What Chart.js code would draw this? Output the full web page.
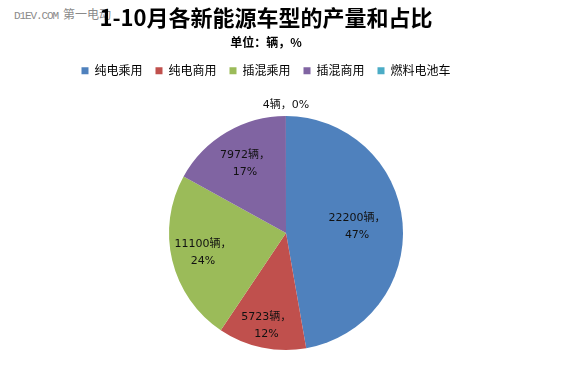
<!DOCTYPE html>
<html>
<head>
<meta charset="utf-8">
<script src="https://cdn.jsdelivr.net/npm/chart.js@4.4.0/dist/chart.umd.min.js"></script>
<style>
  html, body { margin: 0; padding: 0; background: #fff; }
  #wrap { position: relative; width: 564px; height: 365px; }
  #mark { position: absolute; left: 14px; top: 5px; color: #8a8a8a; white-space: nowrap; }
  #mark .en { font: 11px "Liberation Mono"; letter-spacing: -1.1px; }
  #mark .cn { font: 12px "Noto Sans CJK SC"; margin-left: 5px; }
  canvas { position: absolute; left: 0; top: 0; }
</style>
</head>
<body>
<div id="wrap">
  <div id="mark"><span class="en">D1EV.COM</span><span class="cn">第一电动</span></div>
  <canvas id="myChart" width="564" height="365"></canvas>
</div>
<script>
const categories = ['纯电乘用', '纯电商用', '插混乘用', '插混商用', '燃料电池车'];
const output = [22200, 5723, 11100, 7972, 4];
const colors = ['#4f81bd', '#c0504d', '#9bbb59', '#8064a2', '#4bacc6'];
// how far out each label sits, as a share of the radius
const labelRadius = [0.61, 0.81, 0.73, 0.69, 1.09];

const CJK = '"Noto Sans CJK SC", "Noto Sans", sans-serif';

// moves the plot area so the pie sits right of the centred titles
const plotBox = {
  id: 'plotBox',
  afterLayout(chart, args, opts) {
    const a = chart.chartArea;
    a.left += opts.shiftX * 2;
    a.top = opts.top;
    a.bottom = opts.bottom;
    a.width = a.right - a.left;
    a.height = a.bottom - a.top;
  }
};

const sliceLabels = {
  id: 'sliceLabels',
  afterDatasetsDraw(chart) {
    const ctx = chart.ctx;
    const meta = chart.getDatasetMeta(0);
    const data = chart.data.datasets[0].data;
    const total = data.reduce((a, b) => a + b, 0);
    ctx.save();
    ctx.font = '11px "DejaVu Sans", ' + CJK;
    ctx.fillStyle = '#111';
    ctx.textAlign = 'center';
    ctx.textBaseline = 'middle';
    meta.data.forEach((arc, i) => {
      const p = arc.getProps(['x', 'y', 'startAngle', 'endAngle', 'outerRadius'], true);
      const mid = (p.startAngle + p.endAngle) / 2;
      const r = p.outerRadius * labelRadius[i];
      const x = p.x + Math.cos(mid) * r;
      const y = p.y + Math.sin(mid) * r;
      const head = data[i] + '辆，';
      const pct = Math.round(data[i] / total * 100) + '%';
      if (labelRadius[i] > 1) {
        ctx.fillText(head + pct, x, y);
      } else {
        ctx.fillText(head, x, y - 8.5);
        ctx.fillText(pct, x, y + 8.5);
      }
    });
    ctx.restore();
  }
};

const ctx = document.getElementById('myChart').getContext('2d');
const myChart = new Chart(ctx, {
  type: 'pie',
  data: {
    labels: categories,
    datasets: [{
      data: output,
      backgroundColor: colors,
      borderWidth: 0
    }]
  },
  options: {
    responsive: false,
    animation: false,
    radius: 117,
    layout: { padding: { left: 0, right: 32, top: 0, bottom: 0 } },
    plugins: {
      plotBox: { shiftX: 20, top: 116, bottom: 350 },
      title: {
        display: true,
        text: '1-10月各新能源车型的产量和占比',
        color: '#000',
        font: { family: CJK, size: 22, weight: 'bold' },
        padding: { top: 4, bottom: 3 }
      },
      subtitle: {
        display: true,
        text: '单位：辆，%',
        color: '#000',
        font: { family: CJK, size: 12, weight: 'bold' },
        padding: { top: 2, bottom: 2 }
      },
      legend: {
        labels: {
          boxWidth: 7,
          boxHeight: 7,
          padding: 13,
          color: '#000',
          font: { family: CJK, size: 12 },
          generateLabels(chart) {
            return Chart.overrides.doughnut.plugins.legend.labels.generateLabels(chart)
              .map(l => ({ ...l, lineWidth: 0 }));
          }
        }
      },
      tooltip: { enabled: false }
    }
  },
  plugins: [plotBox, sliceLabels]
});
</script>
</body>
</html>
